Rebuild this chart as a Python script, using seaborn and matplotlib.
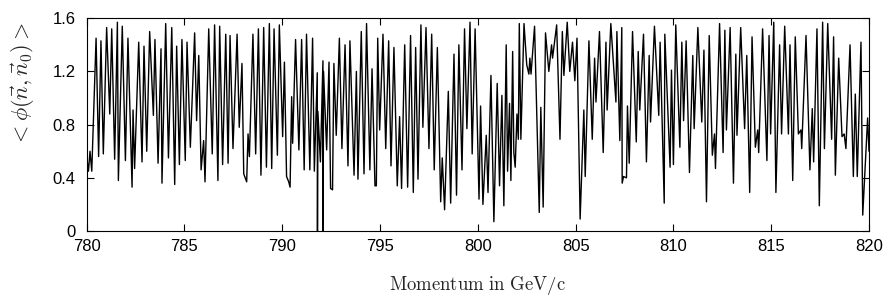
import matplotlib
matplotlib.use("Agg")
import matplotlib.pyplot as plt
import seaborn as sns
import pandas as pd

# momentum (GeV/c) and <phi(n, n0)>, peak by peak
momentum = [
    780.00, 780.09, 780.17, 780.26, 780.48, 780.61, 780.73, 780.85, 781.02, 781.18,
    781.28, 781.43, 781.57, 781.62, 781.82, 781.98, 782.11, 782.32, 782.37, 782.45,
    782.66, 782.83, 782.93, 783.07, 783.22, 783.41, 783.49, 783.65, 783.80, 783.85,
    784.04, 784.18, 784.35, 784.50, 784.60, 784.74, 784.87, 785.04, 785.13, 785.30,
    785.52, 785.62, 785.73, 785.85, 785.98, 786.05, 786.24, 786.42, 786.54, 786.71,
    786.80, 786.95, 787.11, 787.23, 787.33, 787.48, 787.69, 787.80, 787.94, 788.03,
    788.18, 788.25, 788.32, 788.50, 788.64, 788.78, 788.91, 789.05, 789.19, 789.34,
    789.46, 789.58, 789.75, 789.85, 790.02, 790.11, 790.22, 790.33, 790.40, 790.48,
    790.53, 790.68, 790.85, 790.99, 791.12, 791.24, 791.41, 791.55, 791.64, 791.79,
    791.80, 791.82, 791.95, 792.08, 792.09, 792.11, 792.27, 792.39, 792.47, 792.57,
    792.64, 792.76, 792.92, 793.05, 793.21, 793.36, 793.46, 793.67, 793.79, 793.87,
    794.04, 794.18, 794.31, 794.48, 794.59, 794.74, 794.81, 794.88, 794.98, 795.15,
    795.29, 795.44, 795.56, 795.71, 795.88, 796.00, 796.10, 796.26, 796.41, 796.56,
    796.70, 796.82, 796.94, 797.09, 797.19, 797.35, 797.50, 797.64, 797.77, 797.93,
    798.10, 798.18, 798.30, 798.49, 798.61, 798.78, 798.91, 799.03, 799.19, 799.32,
    799.44, 799.60, 799.71, 799.86, 800.06, 800.14, 800.26, 800.43, 800.52, 800.67,
    800.82, 800.99, 801.11, 801.23, 801.33, 801.45, 801.52, 801.62, 801.69, 801.78,
    801.84, 801.91, 802.00, 802.07, 802.12, 802.20, 802.36, 802.50, 802.61, 802.66,
    802.72, 802.90, 803.14, 803.22, 803.34, 803.46, 803.63, 803.77, 803.82, 804.03,
    804.20, 804.32, 804.40, 804.57, 804.70, 804.84, 804.96, 805.07, 805.23, 805.42,
    805.49, 805.68, 805.85, 805.97, 806.04, 806.22, 806.41, 806.55, 806.61, 806.80,
    807.06, 807.11, 807.26, 807.36, 807.38, 807.45, 807.60, 807.65, 807.74, 807.91,
    808.10, 808.20, 808.28, 808.47, 808.62, 808.76, 808.83, 809.03, 809.25, 809.32,
    809.53, 809.56, 809.83, 809.90, 810.00, 810.12, 810.33, 810.43, 810.52, 810.65,
    810.82, 810.99, 811.06, 811.25, 811.45, 811.56, 811.69, 811.83, 811.99, 812.10,
    812.15, 812.36, 812.54, 812.63, 812.71, 812.90, 813.07, 813.19, 813.25, 813.44,
    813.64, 813.75, 813.90, 814.02, 814.19, 814.31, 814.36, 814.56, 814.78, 814.89,
    814.97, 815.13, 815.24, 815.43, 815.53, 815.69, 815.88, 815.96, 816.10, 816.23,
    816.39, 816.52, 816.56, 816.78, 816.98, 817.10, 817.17, 817.34, 817.46, 817.63,
    817.72, 817.89, 818.09, 818.19, 818.28, 818.45, 818.62, 818.73, 818.82, 819.03,
    819.20, 819.30, 819.40, 819.59, 819.68, 819.93, 820.00,
]
phi = [
    0.56, 0.45, 0.60, 0.45, 1.45, 0.56, 1.43, 0.58, 1.53, 0.88,
    1.52, 0.54, 1.57, 0.38, 1.54, 0.53, 1.45, 0.33, 0.91, 0.47,
    1.42, 0.52, 1.39, 0.60, 1.50, 0.87, 1.44, 0.51, 1.37, 0.36,
    1.56, 0.55, 1.53, 0.35, 1.39, 0.50, 1.44, 0.53, 1.42, 0.63,
    1.49, 0.83, 1.32, 0.46, 0.68, 0.37, 1.52, 0.58, 1.55, 0.38,
    1.54, 0.50, 1.48, 0.51, 1.47, 0.62, 1.48, 0.78, 1.26, 0.43,
    0.37, 0.73, 0.56, 1.48, 0.58, 1.52, 0.42, 1.53, 0.48, 1.56,
    0.47, 1.52, 0.57, 1.55, 0.71, 1.27, 0.41, 0.37, 0.33, 1.01,
    0.66, 1.44, 0.61, 1.44, 0.46, 1.48, 0.46, 1.45, 0.45, 1.19,
    0.00, 0.90, 0.52, 1.28, 0.00, 1.20, 0.61, 1.27, 0.32, 0.31,
    1.26, 0.72, 1.45, 0.62, 1.40, 0.49, 1.43, 0.42, 1.20, 0.39,
    1.50, 0.43, 1.56, 0.46, 1.22, 0.34, 0.34, 1.45, 0.76, 1.48,
    0.62, 1.43, 0.49, 1.38, 0.34, 0.86, 0.32, 1.40, 0.33, 1.47,
    0.29, 1.38, 0.39, 1.55, 0.78, 1.53, 0.62, 1.48, 0.46, 1.38,
    0.22, 0.55, 0.16, 1.05, 0.21, 1.33, 0.27, 1.40, 0.46, 1.52,
    0.77, 1.57, 0.58, 1.52, 0.24, 0.94, 0.20, 0.72, 0.29, 1.17,
    0.07, 1.11, 0.34, 1.02, 0.19, 1.40, 0.45, 0.96, 0.38, 1.35,
    0.59, 0.48, 0.88, 0.69, 1.56, 0.69, 1.56, 1.25, 1.18, 1.30,
    1.18, 1.54, 0.14, 0.93, 0.18, 1.49, 1.20, 1.40, 1.30, 1.55,
    0.69, 1.50, 1.17, 1.57, 1.20, 1.42, 1.13, 1.45, 0.09, 0.91,
    0.41, 1.43, 0.69, 1.30, 0.97, 1.50, 0.59, 1.42, 0.91, 1.56,
    0.97, 1.50, 0.68, 1.53, 0.36, 0.41, 0.40, 0.94, 0.51, 1.50,
    0.67, 1.35, 0.91, 1.48, 0.52, 1.32, 0.82, 1.54, 0.87, 1.42,
    0.21, 1.48, 0.48, 1.21, 0.50, 1.55, 0.63, 1.42, 0.83, 1.43,
    0.44, 1.32, 0.77, 1.53, 0.82, 1.36, 0.22, 1.47, 0.57, 0.73,
    0.47, 1.56, 0.59, 1.51, 0.76, 1.53, 0.36, 1.33, 0.72, 1.53,
    0.77, 1.32, 0.29, 1.46, 0.63, 0.76, 0.59, 1.52, 0.53, 1.47,
    0.73, 1.57, 0.29, 1.40, 0.73, 1.54, 0.73, 1.40, 0.38, 1.46,
    0.73, 0.76, 0.62, 1.47, 0.46, 0.92, 0.52, 1.52, 0.19, 1.57,
    0.62, 1.56, 0.69, 1.46, 0.42, 1.30, 0.71, 0.73, 0.62, 1.40,
    0.41, 1.03, 0.41, 1.42, 0.12, 0.85, 0.60,
]

x_ticks = [780, 785, 790, 795, 800, 805, 810, 815, 820]
y_ticks = [0, 0.4, 0.8, 1.2, 1.6]
y_tick_labels = ["0", "0.4", "0.8", "1.2", "1.6"]

df = pd.DataFrame({"momentum": momentum, "phi": phi})

sns.set_style("ticks")
plt.rcParams["font.family"] = ["Liberation Sans", "DejaVu Sans"]
plt.rcParams["mathtext.fontset"] = "cm"

fig = plt.figure(figsize=(8.9, 3.04), dpi=100)
ax = fig.add_axes([0.0974, 0.240, 0.879, 0.700])

sns.lineplot(data=df, x="momentum", y="phi", ax=ax, color="black",
             linewidth=1.0, estimator=None, sort=False)

ax.set_xlim(780, 820)
ax.set_ylim(0, 1.6)
ax.set_xticks(x_ticks)
ax.set_yticks(y_ticks)
ax.set_yticklabels(y_tick_labels)
ax.tick_params(direction="in", length=5, width=0.8, top=True, right=True,
               labelsize=12, colors="black")
ax.tick_params(axis="x", pad=6)
ax.tick_params(axis="y", pad=8)
for s in ax.spines.values():
    s.set_linewidth(0.8)
    s.set_color("black")

ax.set_xlabel(r"$\mathrm{Momentum\ in\ GeV/c}$", fontsize=13.5, labelpad=14)
ax.set_ylabel(r"$<\phi(\vec{n},\vec{n}_0)>$", fontsize=16)
ax.yaxis.set_label_coords(-0.064, 0.69)

fig.savefig("out.png", dpi=100)
